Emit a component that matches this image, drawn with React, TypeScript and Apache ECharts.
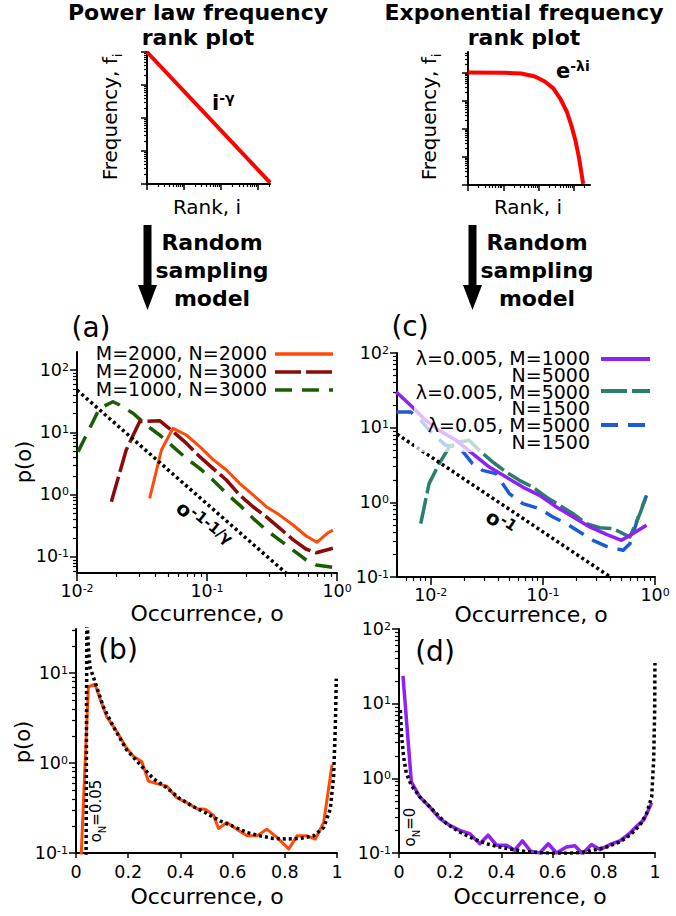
import React, { useEffect, useRef } from 'react';
import * as echarts from 'echarts';

const FONT = "'DejaVu Sans', 'Liberation Sans', sans-serif";

// ---------- schematic panels ----------
const powRank = [1, 2100];
const powFreq = [1, 1.1e-4];
const expRank = [1, 11, 32, 78, 148, 256, 398, 615, 850, 1100, 1375, 1630, 1810];
const expFreq = [1, 0.98, 0.92, 0.72, 0.48, 0.28, 0.124, 0.042, 0.0124, 0.00365, 0.00094, 0.000245, 0.00011];

// ---------- panel (a) ----------
const aOrangeO = [0.0362, 0.0446, 0.0547, 0.0693, 0.0879, 0.111, 0.141, 0.178, 0.226, 0.286, 0.362, 0.459, 0.58, 0.7, 0.853, 0.93];
const aOrangeP = [0.87, 5.2, 11.6, 9.06, 5.9, 3.69, 2.49, 1.52, 0.99, 0.64, 0.47, 0.326, 0.217, 0.172, 0.245, 0.27];
const aDarkRedO = [0.01837, 0.0239, 0.0303, 0.0432, 0.0547, 0.0693, 0.0879, 0.111, 0.141, 0.178, 0.226, 0.286, 0.362, 0.459, 0.58, 0.693, 0.93];
const aDarkRedP = [0.77, 5.2, 14.8, 15.4, 10.3, 6.7, 4.07, 2.64, 1.72, 0.99, 0.64, 0.44, 0.29, 0.19, 0.133, 0.117, 0.138];
const aGreenO = [0.0102, 0.0149, 0.0189, 0.0213, 0.027, 0.0341, 0.0432, 0.0547, 0.0693, 0.0879, 0.111, 0.141, 0.178, 0.226, 0.286, 0.362, 0.459, 0.58, 0.693, 0.93];
const aGreenP = [4.9, 24.3, 31, 27.5, 20.2, 13.1, 9.06, 5.9, 3.83, 2.64, 1.72, 1.05, 0.68, 0.417, 0.27, 0.187, 0.129, 0.0895, 0.0745, 0.068];
const aGuideO = [0.01, 0.407];
const aGuideP = [47.7, 0.0547];

// ---------- panel (c) ----------
const cPurpleO = [0.00493, 0.00686, 0.00902, 0.0119, 0.0168, 0.0236, 0.0333, 0.047, 0.0662, 0.0934, 0.132, 0.186, 0.262, 0.369, 0.503, 0.597, 0.841];
const cPurpleP = [30, 18.9, 12.5, 9.2, 6.77, 4.48, 2.97, 2.18, 1.6, 1.24, 0.866, 0.637, 0.468, 0.372, 0.31, 0.361, 0.492];
const cTealO = [0.00814, 0.00966, 0.0119, 0.0146, 0.0179, 0.022, 0.0271, 0.0357, 0.047, 0.0618, 0.0813, 0.107, 0.141, 0.186, 0.244, 0.322, 0.424, 0.597, 0.734, 0.841];
const cTealP = [0.518, 1.78, 3.3, 5.5, 6.43, 6.77, 4.97, 3.47, 2.55, 1.97, 1.6, 1.18, 0.91, 0.705, 0.518, 0.458, 0.443, 0.343, 0.705, 1.24];
const cBlueO = [0.00493, 0.00662, 0.00814, 0.01035, 0.0136, 0.0179, 0.0236, 0.029, 0.0382, 0.0502, 0.0662, 0.0934, 0.123, 0.162, 0.213, 0.28, 0.369, 0.52, 0.597, 0.71, 0.841];
const cBlueP = [16.2, 16.2, 12.5, 8.3, 5.8, 5.5, 3.3, 2.68, 2.42, 1.31, 0.96, 0.82, 0.637, 0.518, 0.4, 0.31, 0.257, 0.228, 0.279, 0.637, 1.24];
const cGuideO = [0.005, 0.4];
const cGuideP = [8.2, 0.1];

// ---------- panel (b) ----------
const bOrangeO = [0.018, 0.0473, 0.0729, 0.092, 0.1176, 0.156, 0.194, 0.22, 0.252, 0.277, 0.309, 0.348, 0.386, 0.425, 0.463, 0.495, 0.527, 0.546, 0.578, 0.616, 0.655, 0.693, 0.731, 0.77, 0.815, 0.847, 0.885, 0.917, 0.949, 0.981];
const bOrangeP = [0.07, 7.0, 7.5, 5.2, 3.27, 2.24, 1.46, 1.19, 1.04, 0.63, 0.59, 0.553, 0.411, 0.362, 0.311, 0.306, 0.262, 0.187, 0.218, 0.184, 0.155, 0.155, 0.184, 0.149, 0.111, 0.155, 0.155, 0.143, 0.218, 0.96];
const bTheoryO = [0.0384, 0.0415, 0.0473, 0.0537, 0.0729, 0.105, 0.143, 0.194, 0.2455, 0.297, 0.348, 0.399, 0.45, 0.501, 0.552, 0.604, 0.655, 0.706, 0.757, 0.808, 0.859, 0.91, 0.949, 0.974, 0.987, 0.9936, 0.9974];
const bTheoryP = [0.05, 45, 19.4, 11.6, 7.96, 4.2, 2.54, 1.4, 0.96, 0.667, 0.53, 0.4, 0.327, 0.276, 0.227, 0.197, 0.169, 0.155, 0.145, 0.143, 0.145, 0.155, 0.192, 0.305, 0.713, 2.54, 8.66];

// ---------- panel (d) ----------
const dPurpleO = [0.0156, 0.0482, 0.0808, 0.12, 0.159, 0.198, 0.237, 0.276, 0.316, 0.348, 0.381, 0.42, 0.452, 0.482, 0.514, 0.55, 0.583, 0.615, 0.654, 0.687, 0.717, 0.752, 0.785, 0.824, 0.863, 0.902, 0.928, 0.957, 0.987];
const dPurpleP = [23.5, 0.898, 0.565, 0.414, 0.289, 0.235, 0.201, 0.182, 0.133, 0.173, 0.127, 0.127, 0.109, 0.145, 0.106, 0.1, 0.133, 0.1, 0.12, 0.125, 0.098, 0.13, 0.111, 0.13, 0.145, 0.185, 0.228, 0.28, 0.469];
const dTheoryO = [0.0052, 0.0104, 0.018, 0.0287, 0.048, 0.081, 0.133, 0.185, 0.237, 0.289, 0.342, 0.394, 0.446, 0.498, 0.55, 0.602, 0.654, 0.707, 0.759, 0.811, 0.863, 0.902, 0.941, 0.967, 0.987, 0.9948, 0.9987, 0.9998];
const dTheoryP = [8.2, 3.6, 1.95, 1.16, 0.81, 0.565, 0.374, 0.248, 0.191, 0.156, 0.133, 0.12, 0.111, 0.104, 0.101, 0.099, 0.099, 0.101, 0.109, 0.12, 0.141, 0.173, 0.235, 0.337, 0.565, 1.75, 8.2, 35];

// legend texts
const legendA = ['M=2000, N=2000', 'M=2000, N=3000', 'M=1000, N=3000'];
const legendC = [['λ=0.005, M=1000', 'N=5000'], ['λ=0.005, M=5000', 'N=1500'], ['λ=0.05, M=5000', 'N=1500']];
const linearTicks = [0, 0.2, 0.4, 0.6, 0.8, 1];

const C_ORANGE = '#FF4A0A';
const C_DARKRED = '#8B0A0A';
const C_GREEN = '#1B5C05';
const C_PURPLE = '#8E22F5';
const C_TEAL = '#2A7F6C';
const C_BLUE = '#1C5AD8';
const DASH_LONG = [26, 5];
const DASH_MED = [17, 10];
const DOTS = [3, 3];

const lg = (v: number) => Math.log10(v);
const id = (v: number) => v;

function logMajor(min: number, max: number) {
  const out: number[] = [];
  for (let n = Math.ceil(min - 1e-9); n <= Math.floor(max + 1e-9); n++) out.push(n);
  return out;
}
function logMinor(min: number, max: number) {
  const out: number[] = [];
  for (let n = Math.floor(min) - 1; n <= Math.ceil(max); n++) {
    for (let k = 2; k <= 9; k++) {
      const v = n + Math.log10(k);
      if (v > min + 1e-6 && v < max - 1e-6) out.push(v);
    }
  }
  return out;
}

type AxisSpec = { log: boolean; min: number; max: number; labels: boolean; major: number; minor: number };

const LABEL_RICH = {
  b: { fontFamily: FONT, fontSize: 17.5, lineHeight: 17, color: '#000', verticalAlign: 'bottom' },
  s: { fontFamily: FONT, fontSize: 11, lineHeight: 11, color: '#000', verticalAlign: 'top' },
};

const xAxes: any[] = [];
const yAxes: any[] = [];

function addAxes(list: any[], dim: 'x' | 'y', grid: number, s: AxisSpec) {
  const position = dim === 'x' ? 'bottom' : 'left';
  const majors = s.log ? logMajor(s.min, s.max) : linearTicks;
  const base = {
    type: 'value',
    gridIndex: grid,
    min: s.min,
    max: s.max,
    position,
    splitLine: { show: false },
    axisPointer: { show: false },
  };
  const idx = list.length;
  list.push({
    ...base,
    axisLine: { show: true, onZero: false, lineStyle: { color: '#000', width: 2 } },
    axisTick: { show: true, customValues: majors, length: s.major, lineStyle: { color: '#000', width: 1.5 } },
    axisLabel: s.labels
      ? {
          show: true,
          customValues: majors,
          margin: dim === 'x' ? 10 : 8,
          color: '#000',
          fontFamily: FONT,
          fontSize: 17.5,
          lineHeight: 17,
          formatter: s.log
            ? (v: number) => `{b|10}{s|${Math.round(v)}}`
            : (v: number) => (v === 0 ? '0' : v === 1 ? '1' : v.toFixed(1)),
          rich: LABEL_RICH,
        }
      : { show: false },
  });
  if (s.log) {
    list.push({
      ...base,
      axisLine: { show: false, onZero: false },
      axisTick: { show: true, customValues: logMinor(s.min, s.max), length: s.minor, lineStyle: { color: '#000', width: 1.2 } },
      axisLabel: { show: false },
    });
  }
  return idx;
}

const grids = [
  { left: 147, top: 52, width: 123, height: 132 },
  { left: 468, top: 52, width: 122, height: 133 },
  { left: 77, top: 352, width: 260, height: 221 },
  { left: 397, top: 353, width: 258, height: 224 },
  { left: 76, top: 629, width: 261, height: 224 },
  { left: 399, top: 629, width: 256, height: 224 },
];

const axisSpecs: { x: AxisSpec; y: AxisSpec }[] = [
  { x: { log: true, min: 0, max: 3.32, labels: false, major: 6, minor: 3 }, y: { log: true, min: -4, max: 0, labels: false, major: 6, minor: 3 } },
  { x: { log: true, min: 0, max: 3.45, labels: false, major: 6, minor: 3 }, y: { log: true, min: -4, max: 0.73, labels: false, major: 6, minor: 3 } },
  { x: { log: true, min: -2, max: 0, labels: true, major: 8, minor: 4 }, y: { log: true, min: -1.257, max: 2.289, labels: true, major: 7, minor: 4 } },
  { x: { log: true, min: -2.301, max: 0, labels: true, major: 8, minor: 4 }, y: { log: true, min: -1, max: 2, labels: true, major: 7, minor: 4 } },
  { x: { log: false, min: 0, max: 1, labels: true, major: 5, minor: 0 }, y: { log: true, min: -1, max: 1.489, labels: true, major: 7, minor: 4 } },
  { x: { log: false, min: 0, max: 1, labels: true, major: 5, minor: 0 }, y: { log: true, min: -1, max: 2, labels: true, major: 7, minor: 4 } },
];

const xi: number[] = [];
const yi: number[] = [];
axisSpecs.forEach((s, g) => {
  xi.push(addAxes(xAxes, 'x', g, s.x));
  yi.push(addAxes(yAxes, 'y', g, s.y));
});

function series(g: number, xs: number[], ys: number[], fx: (v: number) => number, color: string, width: number, dash: any, name: string, z = 3) {
  return {
    type: 'line',
    name,
    xAxisIndex: xi[g],
    yAxisIndex: yi[g],
    data: xs.map((x, i) => [fx(x), lg(ys[i])]),
    showSymbol: false,
    symbol: 'none',
    clip: true,
    silent: true,
    z,
    lineStyle: { color, width, type: dash, cap: 'butt', join: 'round' },
  };
}

const allSeries = [
  series(0, powRank, powFreq, lg, '#FF0000', 4, 'solid', 'power law'),
  series(1, expRank, expFreq, lg, '#FF0000', 4, 'solid', 'exponential'),
  series(2, aGreenO, aGreenP, lg, C_GREEN, 3.5, DASH_MED, legendA[2]),
  series(2, aDarkRedO, aDarkRedP, lg, C_DARKRED, 3.5, DASH_LONG, legendA[1]),
  series(2, aOrangeO, aOrangeP, lg, C_ORANGE, 3, 'solid', legendA[0]),
  series(2, aGuideO, aGuideP, lg, '#000', 3.5, DOTS, 'guide a', 4),
  series(3, cBlueO, cBlueP, lg, C_BLUE, 3.5, DASH_MED, legendC[2][0]),
  series(3, cTealO, cTealP, lg, C_TEAL, 3.5, DASH_LONG, legendC[1][0]),
  series(3, cPurpleO, cPurpleP, lg, C_PURPLE, 3.5, 'solid', legendC[0][0]),
  series(3, cGuideO, cGuideP, lg, '#000', 3.5, DOTS, 'guide c', 4),
  series(4, bOrangeO, bOrangeP, id, C_ORANGE, 3, 'solid', 'sim b'),
  series(4, bTheoryO, bTheoryP, id, '#000', 3.5, DOTS, 'theory b', 4),
  series(5, dPurpleO, dPurpleP, id, C_PURPLE, 3.5, 'solid', 'sim d'),
  series(5, dTheoryO, dTheoryP, id, '#000', 3.5, DOTS, 'theory d', 4),
];

function text(x: number, y: number, t: string, o: any = {}) {
  return {
    type: 'text',
    x,
    y,
    z: 100,
    rotation: o.rotation || 0,
    silent: true,
    style: {
      text: t,
      fontFamily: FONT,
      fontSize: o.fontSize || 20,
      fontWeight: o.fontWeight || 'normal',
      lineHeight: o.lineHeight,
      fill: '#000',
      align: o.align || 'center',
      verticalAlign: o.verticalAlign || 'middle',
      rich: o.rich,
    },
  };
}

const BOLD = { fontWeight: 'bold', fontSize: 22 };
const supRich = (big: number, small: number, weight: string) => ({
  b: { fontFamily: FONT, fontSize: big, fontWeight: weight, lineHeight: big + 2, verticalAlign: 'bottom', color: '#000' },
  s: { fontFamily: FONT, fontSize: small, fontWeight: weight, lineHeight: small, verticalAlign: 'top', color: '#000' },
});
const subRich = (big: number, small: number) => ({
  n: { fontFamily: FONT, fontSize: big, lineHeight: big + 4, verticalAlign: 'top', color: '#000' },
  d: { fontFamily: FONT, fontSize: small, lineHeight: small, verticalAlign: 'bottom', color: '#000' },
});

const legendLine = (x1: number, x2: number, y: number, color: string, dash: any, width: number) => ({
  type: 'line',
  z: 100,
  silent: true,
  shape: { x1, y1: y, x2, y2: y },
  style: { stroke: color, lineWidth: width, lineDash: dash === 'solid' ? null : dash, lineCap: 'butt' },
});

const graphics: any[] = [
  // titles
  text(198, 25, 'Power law frequency\nrank plot', { ...BOLD, lineHeight: 25 }),
  text(524, 25, 'Exponential frequency\nrank plot', { ...BOLD, lineHeight: 25 }),
  // schematic axis labels
  text(112, 117, '{n|Frequency, f}{d|i}', { rotation: Math.PI / 2, rich: subRich(20, 13) }),
  text(431, 117, '{n|Frequency, f}{d|i}', { rotation: Math.PI / 2, rich: subRich(20, 13) }),
  text(207, 207, 'Rank, i', { fontSize: 20 }),
  text(528, 207, 'Rank, i', { fontSize: 20 }),
  text(212, 102, '{b|i}{s|-γ}', { align: 'left', rich: supRich(21, 14, 'bold') }),
  text(556, 70, '{b|e}{s|-λi}', { align: 'left', rich: supRich(21, 14, 'bold') }),
  // arrows
  { type: 'rect', z: 100, silent: true, shape: { x: 143.5, y: 225, width: 8, height: 62 }, style: { fill: '#000' } },
  { type: 'polygon', z: 100, silent: true, shape: { points: [[138, 285], [157, 285], [147.5, 310]] }, style: { fill: '#000' } },
  { type: 'rect', z: 100, silent: true, shape: { x: 468.5, y: 225, width: 8, height: 62 }, style: { fill: '#000' } },
  { type: 'polygon', z: 100, silent: true, shape: { points: [[463, 285], [482, 285], [472.5, 310]] }, style: { fill: '#000' } },
  text(212, 270, 'Random\nsampling\nmodel', { ...BOLD, lineHeight: 28 }),
  text(537, 270, 'Random\nsampling\nmodel', { ...BOLD, lineHeight: 28 }),
  // panel letters
  text(91, 327, '(a)', { fontSize: 28 }),
  text(410, 326, '(c)', { fontSize: 28 }),
  text(118, 649, '(b)', { fontSize: 28 }),
  text(435, 651, '(d)', { fontSize: 28 }),
  // axis titles
  text(24, 462, 'p(o)', { fontSize: 21, rotation: Math.PI / 2 }),
  text(23, 742, 'p(o)', { fontSize: 21, rotation: Math.PI / 2 }),
  text(207, 613, 'Occurrence, o', { fontSize: 22 }),
  text(531, 614, 'Occurrence, o', { fontSize: 22 }),
  text(207, 896, 'Occurrence, o', { fontSize: 22 }),
  text(530, 896, 'Occurrence, o', { fontSize: 22 }),
  // guide annotations
  text(204, 524, '{b|o}{s|-1-1/γ}', { rotation: (-39 * Math.PI) / 180, rich: supRich(20, 15, 'bold') }),
  text(501, 522, '{b|o}{s|-1}', { rotation: (-34 * Math.PI) / 180, rich: supRich(20, 15, 'bold') }),
  text(97.5, 811, '{n|o}{d|N}{n|=0.05}', { rotation: Math.PI / 2, rich: subRich(15, 10) }),
  text(411.5, 827, '{n|o}{d|N}{n|=0}', { rotation: Math.PI / 2, rich: subRich(15, 10) }),
  // legend (a)
  text(267, 371, legendA.join('\n'), { fontSize: 19, lineHeight: 18, align: 'right' }),
  legendLine(275, 333, 354, C_ORANGE, 'solid', 3.5),
  legendLine(275, 333, 372, C_DARKRED, DASH_LONG, 3.5),
  legendLine(275, 333, 390, C_GREEN, DASH_MED, 3.5),
  // legend (c)
  { type: 'rect', z: 90, silent: true, shape: { x: 414, y: 349, width: 241, height: 103 }, style: { fill: 'rgba(255,255,255,0.7)' } },
  text(590, 400, legendC.map((r) => r.join('\n')).join('\n'), { fontSize: 19, lineHeight: 16.7, align: 'right' }),
  legendLine(601, 650, 359, C_PURPLE, 'solid', 4),
  legendLine(601, 650, 391, C_TEAL, DASH_LONG, 4),
  legendLine(601, 650, 425, C_BLUE, DASH_MED, 4),
];

function buildOption() {
  return {
    animation: false,
    backgroundColor: '#ffffff',
    textStyle: { fontFamily: FONT },
    grid: grids.map((g) => ({ ...g, containLabel: false })),
    xAxis: xAxes,
    yAxis: yAxes,
    series: allSeries,
    graphic: graphics,
  };
}

export default function App() {
  const ref = useRef<HTMLDivElement>(null);
  useEffect(() => {
    if (!ref.current) return;
    const chart = echarts.init(ref.current, null, { renderer: 'svg' });
    chart.setOption(buildOption() as any);
    return () => chart.dispose();
  }, []);
  return (
    <div
      ref={ref}
      style={{ position: 'absolute', left: 0, top: 0, width: 676, height: 916, background: '#fff' }}
    />
  );
}
